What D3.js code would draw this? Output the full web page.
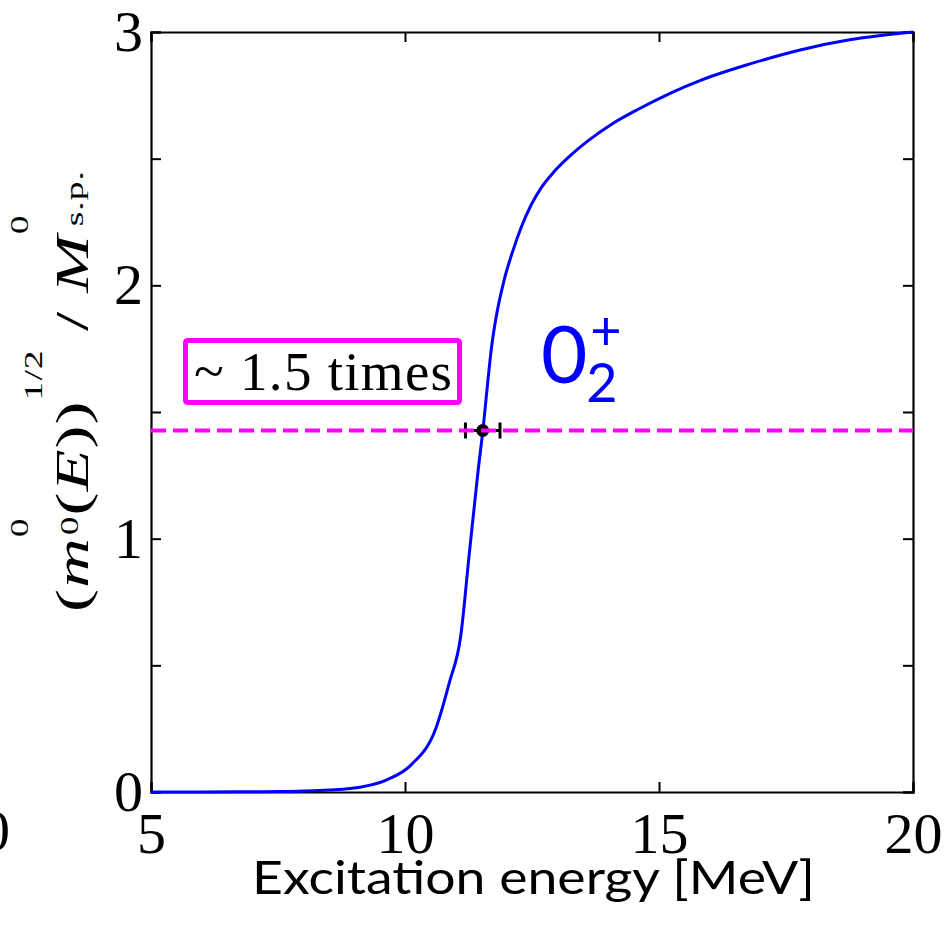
<!DOCTYPE html>
<html>
<head>
<meta charset="utf-8">
<script src="https://cdn.jsdelivr.net/npm/d3@7/dist/d3.min.js"></script>
<style>
  html, body { margin: 0; padding: 0; background: #fff; }
  svg { display: block; }
</style>
</head>
<body>
<script>
// Excitation energy grid [MeV] and the normalised cumulative strength curve
const energy = [5, 6, 7, 7.5, 8, 8.5, 9.14, 9.63, 10.12, 10.61, 10.87, 11.10, 11.26, 11.44, 11.54,
                11.62, 11.70, 11.79, 11.95, 12.13, 12.29, 12.49, 12.68, 12.94, 13.27, 13.6, 14.06,
                14.59, 15.24, 15.83, 16.81, 17.8, 18.78, 20];
const strength = [0, 0, 0.001, 0.002, 0.004, 0.008, 0.02, 0.047, 0.107, 0.253, 0.43, 0.62, 0.93, 1.27, 1.44,
                  1.60, 1.75, 1.87, 2.02, 2.14, 2.23, 2.32, 2.385, 2.45, 2.515, 2.57, 2.635,
                  2.695, 2.76, 2.81, 2.875, 2.93, 2.97, 3.0];

// Reference level (~1.5 times) and the 0+_2 state energy with its uncertainty
const refLevel = 1.427;
const stateEnergy = [11.53];
const stateError = [0.34];

const xTicks = [5, 10, 15, 20];
const yTicks = [0, 0.5, 1, 1.5, 2, 2.5, 3];
const yLabels = [0, 1, 2, 3];

const W = 947, H = 930;
const m = { left: 151, right: 913, top: 32, bottom: 792 };

const svg = d3.select("body").append("svg").attr("width", W).attr("height", H);

const x = d3.scaleLinear().domain([5, 20]).range([m.left, m.right]);
const y = d3.scaleLinear().domain([0, 3]).range([m.bottom, m.top]);

const serif = "'Liberation Serif', 'Times New Roman', serif";
const sans = "Lato, 'Open Sans', sans-serif";

// Axes: inward ticks on all four sides, labels on left and bottom only
const fmtY = d => yLabels.includes(d) ? d3.format("d")(d) : "";
const gl = svg.append("g").attr("transform", `translate(${m.left},0)`)
  .call(d3.axisLeft(y).tickValues(yTicks).tickSize(-10).tickPadding(8).tickFormat(fmtY));
const gr = svg.append("g").attr("transform", `translate(${m.right},0)`)
  .call(d3.axisRight(y).tickValues(yTicks).tickSize(-10).tickFormat(""));
const gb = svg.append("g").attr("transform", `translate(0,${m.bottom})`)
  .call(d3.axisBottom(x).tickValues(xTicks).tickSize(-10).tickPadding(20).tickFormat(d3.format("d")));
const gt = svg.append("g").attr("transform", `translate(0,${m.top})`)
  .call(d3.axisTop(x).tickValues(xTicks).tickSize(-10).tickFormat(""));

[gl, gr, gb, gt].forEach(g => {
  g.select(".domain").attr("stroke", "#000").attr("stroke-width", 2.2);
  g.selectAll(".tick line").attr("stroke", "#000").attr("stroke-width", 2);
  g.selectAll(".tick text").attr("font-family", serif).attr("font-size", 58).attr("fill", "#000");
});

// Partial label from a neighbouring panel at the left edge
svg.append("text").attr("x", 10).attr("y", 850).attr("text-anchor", "end")
  .attr("font-family", serif).attr("font-size", 58).text("20");

const dashY = y(refLevel);

// Strength curve
const line = d3.line().x((d, i) => x(energy[i])).y(d => y(d)).curve(d3.curveMonotoneX);
svg.append("path").datum(strength)
  .attr("d", line).attr("fill", "none").attr("stroke", "#0000ff").attr("stroke-width", 3)
  .attr("stroke-linejoin", "round");

// State marker with horizontal error bar
const eb = svg.append("g").attr("stroke", "#000").attr("stroke-width", 3);
stateEnergy.forEach((e, i) => {
  const x0 = x(e - stateError[i]), x1 = x(e + stateError[i]);
  eb.append("line").attr("x1", x0).attr("x2", x1).attr("y1", dashY).attr("y2", dashY);
  eb.append("line").attr("x1", x0).attr("x2", x0).attr("y1", dashY - 8).attr("y2", dashY + 8);
  eb.append("line").attr("x1", x1).attr("x2", x1).attr("y1", dashY - 8).attr("y2", dashY + 8);
  svg.append("circle").attr("cx", x(e)).attr("cy", dashY).attr("r", 6.5).attr("fill", "#000");
});

// Dashed reference level
svg.append("line")
  .attr("x1", x(5)).attr("x2", x(20)).attr("y1", dashY).attr("y2", dashY)
  .attr("stroke", "#ff00ff").attr("stroke-width", 4).attr("stroke-dasharray", "15,7");

// Boxed annotation
svg.append("rect").attr("x", 185.5).attr("y", 340.5).attr("width", 274).attr("height", 62)
  .attr("rx", 2).attr("fill", "none").attr("stroke", "#ff00ff").attr("stroke-width", 5);
svg.append("text").attr("x", 194).attr("y", 390)
  .attr("font-family", serif).attr("font-size", 55).attr("fill", "#000")
  .attr("textLength", 258).attr("lengthAdjust", "spacing").text("~ 1.5 times");

// State label 0+_2
svg.append("text").attr("x", 541).attr("y", 383).attr("font-family", sans).attr("font-size", 80)
  .attr("fill", "#0000ff").text("0");
svg.append("text").attr("x", 602).attr("y", 402).attr("text-anchor", "middle")
  .attr("font-family", sans).attr("font-size", 54).attr("fill", "#0000ff").text("2");
svg.append("text").attr("x", 606).attr("y", 350).attr("text-anchor", "middle")
  .attr("font-family", sans).attr("font-size", 54).attr("fill", "#0000ff").text("+");

// X axis title
svg.append("text").attr("x", 252).attr("y", 894)
  .attr("font-family", sans).attr("font-size", 46).attr("fill", "#000")
  .attr("textLength", 563).attr("lengthAdjust", "spacingAndGlyphs")
  .text("Excitation energy [MeV]");

// Y axis title: (m_0^0(E))^{1/2} / M^0_{s.p.}
const yt = svg.append("text").attr("font-family", serif).attr("font-size", 46).attr("fill", "#000");
const parts = [
  { t: "(", y: 0 },
  { t: "m", y: 0, it: true },
  { t: "0", y: -60, fs: 25 },
  { t: "0", y: -10, fs: 25, dx: -12 },
  { t: "(", y: 0 },
  { t: "E", y: 0, it: true },
  { t: "))", y: 0 },
  { t: "1/2", y: -46, fs: 25 },
  { t: "\u00a0/\u00a0", y: 0 },
  { t: "M", y: 0, it: true },
  { t: "0", y: -60, fs: 25 },
  { t: "s.p.", y: -5, fs: 25, dx: -8 }
];
parts.forEach(p => {
  const ts = yt.append("tspan").attr("y", p.y).text(p.t);
  if (p.fs) ts.attr("font-size", p.fs);
  if (p.it) ts.attr("font-style", "italic");
  if (p.dx) ts.attr("dx", p.dx);
});
// Stretch along the text direction, then open up the spacing to fill the span
const sx = 1.5, span = 442;
const nChars = parts.reduce((s, p) => s + p.t.length, 0);
const L0 = yt.node().getBBox().width;
const ls = Math.max(0, (span / sx - L0) / nChars);
yt.attr("letter-spacing", ls);
yt.attr("transform", `translate(88,612) rotate(-90) scale(${sx},1)`);
</script>
</body>
</html>
